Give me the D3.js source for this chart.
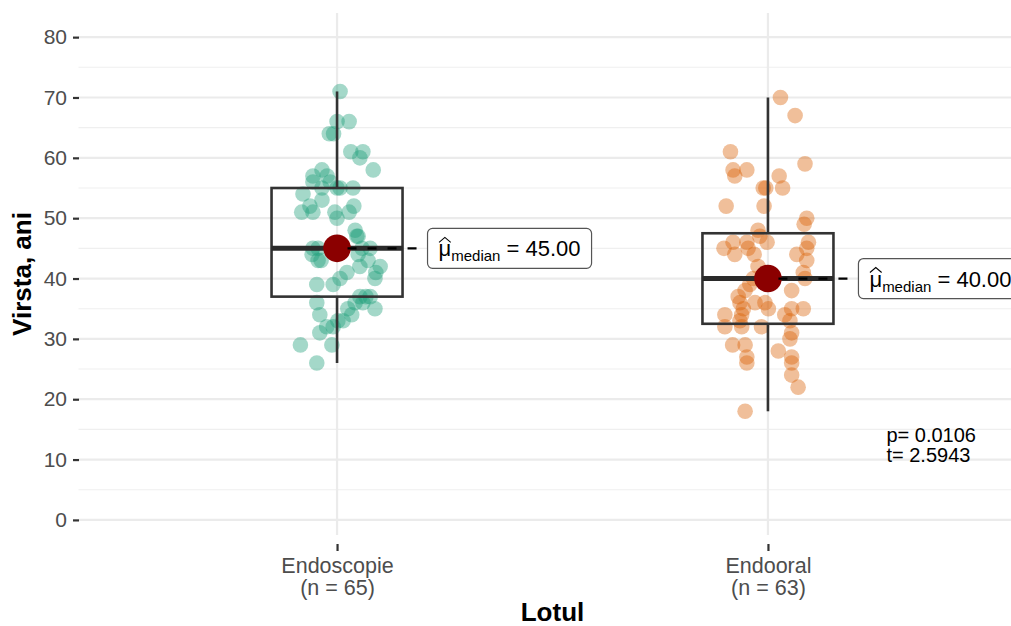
<!DOCTYPE html>
<html>
<head>
<meta charset="utf-8">
<script src="https://cdn.jsdelivr.net/npm/d3@7"></script>
<style>
  body { margin: 0; background: #fff; }
  svg { display: block; font-family: "Liberation Sans", Arial, sans-serif; }
</style>
</head>
<body>
<svg id="chart" width="1011" height="626"></svg>
<script>
// data
const groups = ["Endoscopie", "Endooral"];
const groupN = [65, 63];
const groupColors = ["#1B9E77", "#D95F02"];

const endoscopieAge = [71, 66, 66, 64, 64, 61, 61, 60, 58, 57, 58, 56, 55, 55, 55, 56,
  54, 52, 51, 51, 51, 51, 52, 50, 48, 47, 45, 45, 43, 43, 42, 43, 42, 40, 39, 39, 41,
  40, 37, 37, 36, 35, 36, 34, 34, 33, 32, 32, 31, 29, 29, 26, 45, 45, 44, 47, 37, 36,
  33, 35, 57, 55, 53, 41, 44];
// horizontal jitter, in category units
const endoscopieJitter = [0.007, 0.0, 0.028, -0.018, -0.008, 0.032, 0.06, 0.053, 0.084,
  -0.056, -0.035, -0.056, -0.035, 0.007, 0.037, -0.016, -0.079, -0.063, -0.082, -0.056,
  -0.005, 0.028, 0.039, 0.0, 0.042, 0.046, -0.056, 0.077, -0.044, -0.037, 0.053, 0.072,
  0.1, 0.088, -0.047, -0.009, 0.023, 0.007, 0.053, 0.067, 0.06, 0.088, -0.047, -0.04,
  0.034, 0.014, -0.009, -0.024, -0.04, -0.012, -0.085, -0.047, -0.044, 0.058, 0.049,
  0.049, 0.077, 0.042, 0.002, 0.025, -0.023, 0.0, -0.035, 0.09, -0.058];

const endooralAge = [70, 67, 61, 59, 58, 57, 58, 57, 55, 55, 55, 52, 52, 50, 49, 48, 47,
  46, 45, 46, 45, 46, 46, 45, 44, 43, 41, 40, 40, 38, 38, 37, 36, 36, 35, 35, 35, 35, 34,
  34, 33, 32, 32, 32, 31, 30, 29, 29, 28, 27, 27, 26, 26, 24, 22, 18, 39, 36, 34, 42, 44,
  33, 44];
const endooralJitter = [0.029, 0.063, -0.087, 0.086, -0.081, -0.077, -0.049, 0.026, 0.034,
  -0.011, -0.005, -0.097, -0.009, 0.09, 0.084, -0.023, -0.019, -0.081, -0.102, -0.049,
  -0.046, -0.002, 0.094, 0.09, 0.067, 0.09, 0.082, 0.086, -0.034, 0.055, -0.053, -0.069,
  -0.03, -0.007, 0.001, -0.057, 0.055, 0.082, -0.1, -0.061, -0.065, -0.1, -0.061, -0.015,
  0.055, 0.051, -0.082, -0.053, 0.024, 0.055, -0.049, -0.049, 0.055, 0.055, 0.07, -0.053,
  -0.042, -0.065, 0.039, -0.023, -0.032, 0.051, -0.077];

const groupAges = [endoscopieAge, endooralAge];
const groupJitter = [endoscopieJitter, endooralJitter];

const whiskerLow = [26, 18];
const boxQ1 = [37, 32.5];
const boxMedian = [45, 40];
const boxQ3 = [55, 47.5];
const whiskerHigh = [71, 70];
const medianLabels = ["45.00", "40.00"];

const yTicks = [0, 10, 20, 30, 40, 50, 60, 70, 80];
const yMinorTicks = [5, 15, 25, 35, 45, 55, 65, 75];
const statLines = ["p= 0.0106", "t= 2.5943"];

const svg = d3.select("#chart");

const xScale = d3.scaleLinear().domain([0.4, 2.6]).range([78.5, 1026.5]);
const yScale = d3.scaleLinear().domain([-2.5, 84]).range([535, 13]);
const panelTop = yScale(84), panelBottom = yScale(-2.5);

// grid
const grid = svg.append("g");
grid.selectAll(".minor")
  .data(yMinorTicks)
  .join("line")
  .attr("x1", xScale(0.4)).attr("x2", xScale(2.6))
  .attr("y1", d => yScale(d)).attr("y2", d => yScale(d))
  .attr("stroke", "#EFEFEF").attr("stroke-width", 1.1);
grid.selectAll(".major")
  .data(yTicks)
  .join("line")
  .attr("x1", xScale(0.4)).attr("x2", xScale(2.6))
  .attr("y1", d => yScale(d)).attr("y2", d => yScale(d))
  .attr("stroke", "#EBEBEB").attr("stroke-width", 2.2);
grid.selectAll(".vert")
  .data([1, 2])
  .join("line")
  .attr("x1", d => xScale(d)).attr("x2", d => xScale(d))
  .attr("y1", panelTop).attr("y2", panelBottom)
  .attr("stroke", "#EBEBEB").attr("stroke-width", 2.2);

// axes
const leftAxis = d3.axisLeft(yScale).tickValues(yTicks).tickSize(6).tickPadding(6);
const gy = svg.append("g").attr("transform", "translate(79,0)").call(leftAxis);
gy.select(".domain").remove();
gy.selectAll(".tick line").attr("stroke", "#333").attr("stroke-width", 2.2);
gy.selectAll(".tick text")
  .attr("fill", "#4D4D4D")
  .style("font-size", "21px")
  .style("font-family", "'Liberation Sans', Arial, sans-serif");

const bottomAxis = d3.axisBottom(xScale).tickValues([1, 2]).tickSize(7).tickFormat("");
const gx = svg.append("g").attr("transform", "translate(0,544)").call(bottomAxis);
gx.select(".domain").remove();
gx.selectAll(".tick line").attr("stroke", "#333").attr("stroke-width", 2.2);
gx.selectAll(".tick").each(function (d, i) {
  const t = d3.select(this).append("text")
    .attr("fill", "#4D4D4D")
    .attr("text-anchor", "middle")
    .style("font-size", "21.5px")
    .style("font-family", "'Liberation Sans', Arial, sans-serif");
  t.append("tspan").attr("x", 0).attr("y", 28.5).text(groups[i]);
  t.append("tspan").attr("x", 0).attr("y", 50.5).text(`(n = ${groupN[i]})`);
});

// jittered points
groups.forEach((g, gi) => {
  svg.append("g")
    .selectAll("circle")
    .data(groupAges[gi].map((v, i) => ({ v, j: groupJitter[gi][i] })))
    .join("circle")
    .attr("cx", d => xScale(gi + 1 + d.j))
    .attr("cy", d => yScale(d.v))
    .attr("r", 7.8)
    .attr("fill", groupColors[gi])
    .attr("fill-opacity", 0.4);
});

// boxplots
const boxHalf = 0.152;
groups.forEach((g, gi) => {
  const cx = xScale(gi + 1);
  const b = svg.append("g");
  b.append("line")
    .attr("x1", cx).attr("x2", cx)
    .attr("y1", yScale(whiskerHigh[gi])).attr("y2", yScale(boxQ3[gi]))
    .attr("stroke", "#333").attr("stroke-width", 2.6);
  b.append("line")
    .attr("x1", cx).attr("x2", cx)
    .attr("y1", yScale(boxQ1[gi])).attr("y2", yScale(whiskerLow[gi]))
    .attr("stroke", "#333").attr("stroke-width", 2.6);
  b.append("rect")
    .attr("x", xScale(gi + 1 - boxHalf))
    .attr("y", yScale(boxQ3[gi]))
    .attr("width", xScale(gi + 1 + boxHalf) - xScale(gi + 1 - boxHalf))
    .attr("height", yScale(boxQ1[gi]) - yScale(boxQ3[gi]))
    .attr("fill", "none")
    .attr("stroke", "#333").attr("stroke-width", 2.6);
  b.append("line")
    .attr("x1", xScale(gi + 1 - boxHalf)).attr("x2", xScale(gi + 1 + boxHalf))
    .attr("y1", yScale(boxMedian[gi])).attr("y2", yScale(boxMedian[gi]))
    .attr("stroke", "#2a2a2a").attr("stroke-width", 5);
});

// centrality points and labels
const labelOffset = 0.21;
groups.forEach((g, gi) => {
  const cx = xScale(gi + 1);
  const cy = yScale(boxMedian[gi]);
  const lx = xScale(gi + 1 + labelOffset);

  svg.append("circle")
    .attr("cx", cx).attr("cy", cy).attr("r", 13.8)
    .attr("fill", "#8B0000");

  svg.append("line")
    .attr("x1", lx).attr("x2", cx)
    .attr("y1", cy).attr("y2", cy)
    .attr("stroke", "#000").attr("stroke-width", 2.2)
    .attr("stroke-dasharray", "9,11")
    .attr("stroke-dashoffset", 9);

  const lab = svg.append("g");
  const rect = lab.append("rect");
  const tx = lx + 11, ty = cy + 8;
  const text = lab.append("text")
    .attr("x", tx).attr("y", ty)
    .attr("fill", "#000")
    .style("font-size", "22px");
  text.append("tspan").text("μ");
  text.append("tspan").attr("dy", 5).style("font-size", "15px").text("median");
  text.append("tspan").attr("dy", -5).text(` = ${medianLabels[gi]}`);

  const muW = text.node().getSubStringLength(0, 1);
  lab.append("path")
    .attr("d", `M${tx + 0.5},${ty - 14} L${tx + muW / 2},${ty - 19} L${tx + muW - 0.5},${ty - 14}`)
    .attr("fill", "none").attr("stroke", "#000").attr("stroke-width", 1.1);

  const w = text.node().getComputedTextLength();
  rect.attr("x", lx).attr("y", cy - 20)
    .attr("width", w + 22).attr("height", 40)
    .attr("rx", 5)
    .attr("fill", "#fff")
    .attr("stroke", "#555").attr("stroke-width", 1.2);
});

// test result
const stat = svg.append("text")
  .attr("x", xScale(2.275)).attr("y", yScale(12.9))
  .attr("fill", "#000")
  .style("font-size", "20px");
statLines.forEach((s, i) => {
  stat.append("tspan").attr("x", xScale(2.275)).attr("dy", i === 0 ? 0 : 20).text(s);
});

// axis titles
svg.append("text")
  .attr("x", (xScale(0.4) + xScale(2.6)) / 2).attr("y", 621)
  .attr("text-anchor", "middle")
  .style("font-size", "26px").style("font-weight", "bold")
  .text("Lotul");
svg.append("text")
  .attr("transform", `translate(31,${(panelTop + panelBottom) / 2}) rotate(-90)`)
  .attr("text-anchor", "middle")
  .style("font-size", "26px").style("font-weight", "bold")
  .text("Virsta, ani");
</script>
</body>
</html>
